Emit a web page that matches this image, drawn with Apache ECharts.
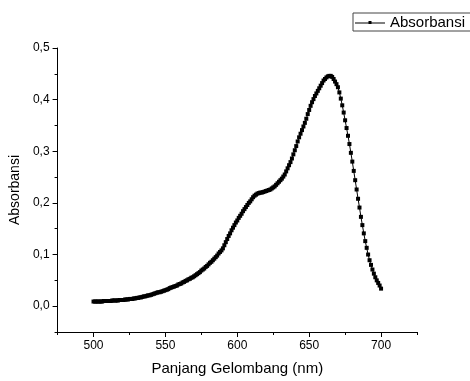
<!DOCTYPE html>
<html>
<head>
<meta charset="utf-8">
<script src="https://cdn.jsdelivr.net/npm/echarts@6/dist/echarts.min.js"></script>
<style>
  html, body { margin: 0; padding: 0; background: #fff; }
  #chart { width: 470px; height: 381px; }
</style>
</head>
<body>
<div id="chart"></div>
<script>
// wavelength (nm), one reading per nm
const wavelengths = [
  500, 501, 502, 503, 504, 505, 506, 507, 508, 509,
  510, 511, 512, 513, 514, 515, 516, 517, 518, 519,
  520, 521, 522, 523, 524, 525, 526, 527, 528, 529,
  530, 531, 532, 533, 534, 535, 536, 537, 538, 539,
  540, 541, 542, 543, 544, 545, 546, 547, 548, 549,
  550, 551, 552, 553, 554, 555, 556, 557, 558, 559,
  560, 561, 562, 563, 564, 565, 566, 567, 568, 569,
  570, 571, 572, 573, 574, 575, 576, 577, 578, 579,
  580, 581, 582, 583, 584, 585, 586, 587, 588, 589,
  590, 591, 592, 593, 594, 595, 596, 597, 598, 599,
  600, 601, 602, 603, 604, 605, 606, 607, 608, 609,
  610, 611, 612, 613, 614, 615, 616, 617, 618, 619,
  620, 621, 622, 623, 624, 625, 626, 627, 628, 629,
  630, 631, 632, 633, 634, 635, 636, 637, 638, 639,
  640, 641, 642, 643, 644, 645, 646, 647, 648, 649,
  650, 651, 652, 653, 654, 655, 656, 657, 658, 659,
  660, 661, 662, 663, 664, 665, 666, 667, 668, 669,
  670, 671, 672, 673, 674, 675, 676, 677, 678, 679,
  680, 681, 682, 683, 684, 685, 686, 687, 688, 689,
  690, 691, 692, 693, 694, 695, 696, 697, 698, 699,
  700
]

// absorbance
const absorbansi = [
  0.009, 0.009, 0.009, 0.009, 0.009, 0.009, 0.009, 0.010, 0.010, 0.010,
  0.010, 0.010, 0.010, 0.011, 0.011, 0.011, 0.011, 0.011, 0.012, 0.012,
  0.012, 0.012, 0.013, 0.013, 0.013, 0.014, 0.014, 0.014, 0.015, 0.015,
  0.016, 0.016, 0.017, 0.017, 0.018, 0.019, 0.019, 0.020, 0.021, 0.021,
  0.022, 0.023, 0.024, 0.025, 0.026, 0.027, 0.027, 0.028, 0.029, 0.030,
  0.031, 0.032, 0.033, 0.035, 0.036, 0.037, 0.038, 0.039, 0.040, 0.042,
  0.043, 0.044, 0.046, 0.047, 0.049, 0.050, 0.052, 0.053, 0.055, 0.056,
  0.058, 0.060, 0.062, 0.064, 0.066, 0.069, 0.071, 0.073, 0.076, 0.078,
  0.081, 0.084, 0.086, 0.089, 0.092, 0.095, 0.098, 0.102, 0.105, 0.108,
  0.112, 0.118, 0.124, 0.130, 0.136, 0.141, 0.147, 0.152, 0.157, 0.162,
  0.166, 0.171, 0.175, 0.179, 0.184, 0.188, 0.192, 0.196, 0.200, 0.203,
  0.207, 0.211, 0.214, 0.216, 0.218, 0.219, 0.220, 0.220, 0.221, 0.222,
  0.223, 0.224, 0.225, 0.226, 0.228, 0.230, 0.232, 0.235, 0.238, 0.241,
  0.244, 0.247, 0.251, 0.255, 0.261, 0.267, 0.273, 0.279, 0.286, 0.294,
  0.302, 0.310, 0.319, 0.327, 0.334, 0.341, 0.348, 0.355, 0.363, 0.372,
  0.380, 0.388, 0.395, 0.401, 0.407, 0.412, 0.417, 0.422, 0.427, 0.432,
  0.437, 0.440, 0.443, 0.445, 0.446, 0.446, 0.444, 0.440, 0.435, 0.430,
  0.424, 0.414, 0.402, 0.389, 0.375, 0.360, 0.345, 0.330, 0.314, 0.297,
  0.280, 0.262, 0.244, 0.226, 0.208, 0.191, 0.173, 0.157, 0.141, 0.126,
  0.113, 0.100, 0.089, 0.080, 0.071, 0.063, 0.056, 0.050, 0.045, 0.040,
  0.034
]

const xMajorTicks = [500, 550, 600, 650, 700]
const xMinorTicks = [475, 525, 575, 625, 675, 725]
const yMajorTicks = [0, 0.1, 0.2, 0.3, 0.4, 0.5]
const yMinorTicks = [-0.05, 0.05, 0.15, 0.25, 0.35, 0.45]

const FONT = '"Liberation Sans", Arial, sans-serif'

const chart = echarts.init(document.getElementById('chart'))

const axisBase = {
  type: 'value',
  axisLine: { show: true, onZero: false, lineStyle: { color: '#000', width: 1 } },
  splitLine: { show: false },
}

chart.setOption({
  animation: false,
  backgroundColor: '#fff',
  grid: { left: 54, right: 53, top: 48, bottom: 43 },
  legend: {
    left: 353,
    top: 13,
    padding: [2, 12, 1, 2],
    borderColor: '#444',
    borderWidth: 1,
    borderRadius: 0,
    // thin line with a small square in the middle
    icon: 'path://M0,1.5H30V2.5H0Z M13.5,0H16.5V3H13.5Z',
    itemWidth: 30,
    itemHeight: 3,
    textStyle: { color: '#000', fontSize: 15, fontFamily: FONT },
    data: ['Absorbansi'],
  },
  xAxis: [
    {
      ...axisBase,
      position: 'bottom',
      min: 475,
      max: 725,
      name: 'Panjang Gelombang (nm)',
      nameLocation: 'middle',
      nameGap: 29,
      nameTextStyle: { color: '#000', fontSize: 15, fontFamily: FONT },
      axisTick: {
        show: true,
        inside: false,
        length: 5,
        customValues: xMajorTicks,
        lineStyle: { color: '#000' },
      },
      axisLabel: {
        customValues: xMajorTicks,
        margin: 8,
        color: '#000',
        fontSize: 12,
        fontFamily: FONT,
      },
    },
    {
      ...axisBase,
      position: 'bottom',
      min: 475,
      max: 725,
      axisLine: { show: false, onZero: false },
      axisTick: {
        show: true,
        length: 3,
        customValues: xMinorTicks,
        lineStyle: { color: '#000' },
      },
      axisLabel: { show: false },
    },
  ],
  yAxis: [
    {
      ...axisBase,
      position: 'left',
      min: -0.05,
      max: 0.5,
      name: 'Absorbansi',
      nameLocation: 'middle',
      nameGap: 28,
      nameRotate: 90,
      nameTextStyle: { color: '#000', fontSize: 14, fontFamily: FONT },
      axisTick: {
        show: true,
        length: 5,
        customValues: yMajorTicks,
        lineStyle: { color: '#000' },
      },
      axisLabel: {
        customValues: yMajorTicks,
        margin: 8,
        color: '#000',
        fontSize: 12,
        fontFamily: FONT,
        formatter: (v) => v.toFixed(1).replace('.', ','),
      },
    },
    {
      ...axisBase,
      position: 'left',
      min: -0.05,
      max: 0.5,
      axisLine: { show: false, onZero: false },
      axisTick: {
        show: true,
        length: 3,
        customValues: yMinorTicks,
        lineStyle: { color: '#000' },
      },
      axisLabel: { show: false },
    },
  ],
  series: [
    {
      name: 'Absorbansi',
      type: 'line',
      xAxisIndex: 0,
      yAxisIndex: 0,
      symbol: 'rect',
      symbolSize: 4,
      showSymbol: true,
      color: '#000',
      itemStyle: { color: '#000' },
      lineStyle: { color: '#000', width: 1 },
      data: wavelengths.map((w, i) => [w, absorbansi[i]]),
    },
  ],
})
</script>
</body>
</html>
